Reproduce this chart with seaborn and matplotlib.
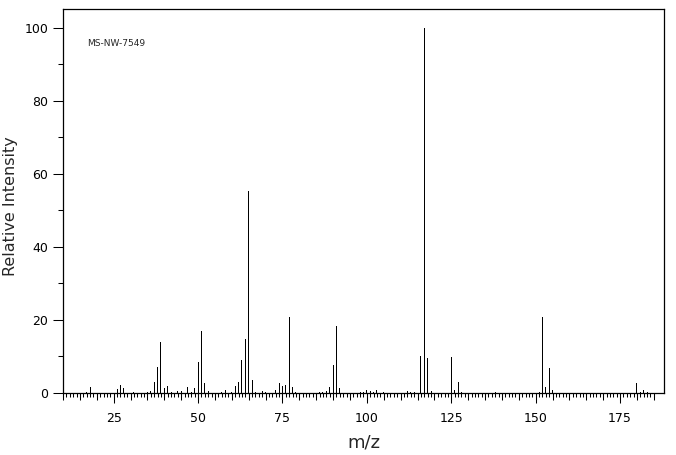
import numpy as np
import pandas as pd
import seaborn as sns
import matplotlib.pyplot as plt
from matplotlib.ticker import MultipleLocator

# peaks (m/z, relative intensity %)
mz = [17, 18, 26, 27, 28, 31, 35, 36, 37, 38, 39, 40, 41, 42, 44, 45, 47, 48, 49,
      50, 51, 52, 53, 57, 58, 60, 61, 62, 63, 64, 65, 66, 67, 69, 70, 73, 74, 75,
      76, 77, 78, 79, 86, 87, 88, 89, 90, 91, 92, 98, 99, 100, 101, 102, 103, 105,
      112, 113, 114, 116, 117, 118, 119, 125, 126, 127, 128, 138, 151, 152, 153,
      154, 155, 180, 181, 182, 183]
intensity = [0.3, 1.6, 1.2, 2.3, 1.5, 0.4, 0.4, 0.6, 3.1, 7.2, 14.0, 1.5, 2.0, 0.4,
             0.5, 0.6, 1.6, 0.4, 1.3, 8.6, 17.0, 2.8, 0.6, 0.3, 0.8, 0.4, 2.0, 3.1,
             9.1, 14.8, 55.3, 3.6, 0.4, 0.6, 0.4, 0.8, 2.6, 2.0, 2.3, 20.8, 1.7, 0.4,
             0.4, 0.4, 0.6, 1.7, 7.7, 18.4, 1.5, 0.4, 0.4, 0.7, 0.6, 0.4, 0.7, 0.4,
             0.6, 0.4, 0.4, 10.2, 100.0, 9.7, 0.6, 9.9, 0.8, 3.1, 0.4, 0.4, 0.4,
             20.8, 1.7, 6.9, 0.8, 2.6, 0.4, 0.8, 0.4]
x_labels = [25, 50, 75, 100, 125, 150, 175]
y_labels = [0, 20, 40, 60, 80, 100]
sample_id = "MS-NW-7549"

df = pd.DataFrame({"mz": mz, "intensity": intensity})

sns.set_style("ticks")
plt.rcParams["font.family"] = ["DejaVu Sans"]

fig = plt.figure(figsize=(6.76, 4.55), dpi=100)
ax = fig.add_axes([0.0932, 0.1363, 0.8895, 0.8433])

sns.barplot(data=df, x="mz", y="intensity", native_scale=True, width=0.3,
            color="black", errorbar=None, linewidth=0, antialiased=False, ax=ax)

ax.set_xlim(10, 188.1)
ax.set_ylim(0, 105.1)

for s in ax.spines.values():
    s.set_visible(True)
    s.set_linewidth(0.9)
    s.set_color("black")

ax.set_xticks(x_labels)
ax.set_xticklabels([str(v) for v in x_labels])
ax.xaxis.set_minor_locator(plt.FixedLocator(np.arange(10, 186, 1)))
ax.set_yticks(y_labels)
ax.set_yticklabels([str(v) for v in y_labels])
ax.yaxis.set_minor_locator(MultipleLocator(10))

ax.tick_params(axis="x", which="major", length=7.5, width=0.75, pad=6.5,
               labelsize=9, colors="black", direction="out")
ax.tick_params(axis="x", which="minor", length=3, width=0.75, direction="out",
               colors="black")
ax.tick_params(axis="y", which="major", length=7.5, width=0.75, pad=3,
               labelsize=9, colors="black")
ax.tick_params(axis="y", which="minor", length=3.6, width=0.75, colors="black")

# medium ticks every 5 units
sec = ax.secondary_xaxis("bottom")
sec.set_xticks(np.arange(10, 186, 5))
sec.tick_params(length=5, width=0.75, labelbottom=False, colors="black")
sec.spines["bottom"].set_visible(False)

ax.set_xlabel("m/z", fontsize=13, labelpad=6)
ax.set_ylabel("Relative Intensity", fontsize=11.5)
ax.yaxis.set_label_coords(-0.075, 0.487)
ax.text(0.04, 0.905, sample_id, transform=ax.transAxes, fontsize=6.5)

fig.savefig("out.png", dpi=100)
